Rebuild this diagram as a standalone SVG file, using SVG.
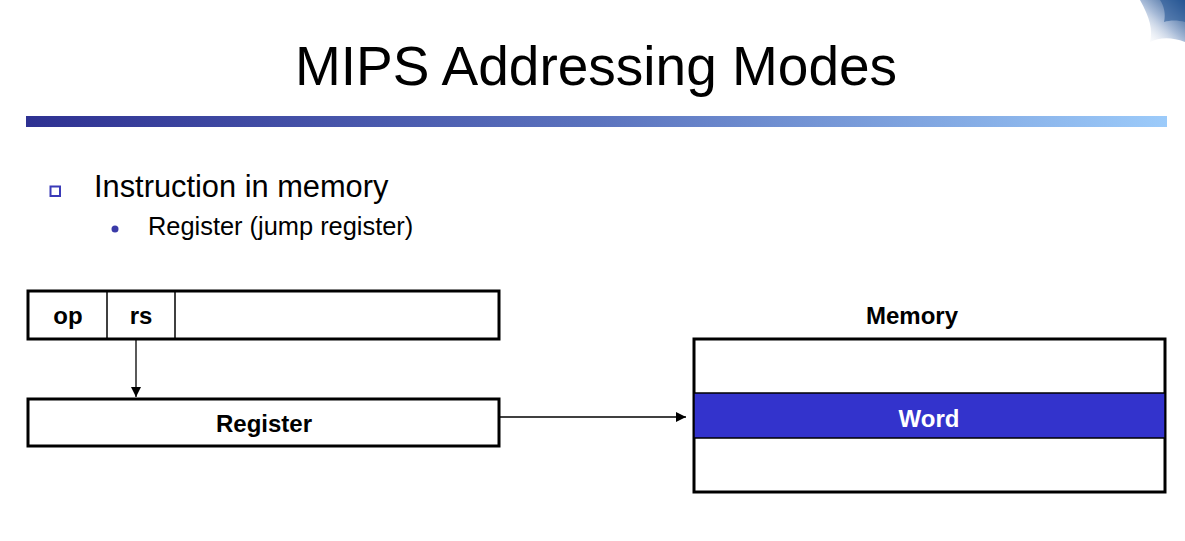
<svg xmlns="http://www.w3.org/2000/svg" width="1185" height="541" viewBox="0 0 1185 541">
<defs>
<linearGradient id="bar" x1="0" y1="0" x2="1" y2="0">
<stop offset="0" stop-color="#2E3192"/>
<stop offset="0.5" stop-color="#5B73BE"/>
<stop offset="1" stop-color="#9CCBFA"/>
</linearGradient>
<linearGradient id="swoosh" x1="0" y1="1" x2="1" y2="0">
<stop offset="0" stop-color="#FFFFFF" stop-opacity="0"/>
<stop offset="0.5" stop-color="#A9BCD8"/>
<stop offset="1" stop-color="#1F4E8C"/>
</linearGradient>
<marker id="arr" viewBox="0 0 10 10" refX="10" refY="5" markerWidth="10" markerHeight="10" markerUnits="userSpaceOnUse" orient="auto">
<path d="M0,0 L10,5 L0,10 z" fill="#000"/>
</marker>
<style>
.box{fill:#fff;stroke:#000;stroke-width:3}
.div{stroke:#000;stroke-width:1.5}
.lbl{font-family:"Liberation Sans",Arial,sans-serif;font-weight:bold;font-size:24px;fill:#000;text-anchor:middle}
.conn{stroke:#000;stroke-width:1.3;fill:none}
</style>
</defs>
<rect width="1185" height="541" fill="#fff"/>
<path d="M1140,0 L1185,0 L1185,42 C1170,36 1158,38 1150,42 C1153,30 1150,18 1140,0 Z" fill="url(#swoosh)"/>
<path d="M1160,0 L1185,0 L1185,22 C1178,20 1170,20 1164,22 C1166,14 1164,6 1160,0 Z" fill="#2A5A98" opacity="0.6"/>
<text x="596" y="85" font-family="Liberation Sans,Arial,sans-serif" font-size="55" text-anchor="middle" fill="#000">MIPS Addressing Modes</text>
<rect x="26" y="116" width="1141" height="11" fill="url(#bar)"/>
<rect x="50.5" y="186.5" width="9.5" height="9.5" fill="#fff" stroke="#3A3AB8" stroke-width="2"/>
<text x="94" y="197" font-family="Liberation Sans,Arial,sans-serif" font-size="30.8" fill="#000">Instruction in memory</text>
<circle cx="115" cy="229" r="3.5" fill="#3A3AA8"/>
<text x="148" y="235" font-family="Liberation Sans,Arial,sans-serif" font-size="25.4" fill="#000">Register (jump register)</text>
<g id="instruction">
<rect class="box" x="28" y="291" width="471" height="48"/>
<line class="div" x1="107" y1="291" x2="107" y2="339"/>
<line class="div" x1="175" y1="291" x2="175" y2="339"/>
<text class="lbl" x="68" y="324">op</text>
<text class="lbl" x="141" y="324">rs</text>
</g>
<g id="register">
<rect class="box" x="28" y="399" width="471" height="47"/>
<text class="lbl" x="264" y="432">Register</text>
</g>
<g id="memory">
<text class="lbl" x="912" y="324">Memory</text>
<rect class="box" x="694" y="339" width="471" height="153"/>
<rect x="694" y="393" width="471" height="45" fill="#3333CC" stroke="#000" stroke-width="1.5"/>
<text class="lbl" x="929" y="427" style="fill:#fff">Word</text>
</g>
<g id="connectors">
<line class="conn" x1="136" y1="340" x2="136" y2="397" marker-end="url(#arr)"/>
<line class="conn" x1="499" y1="417" x2="686" y2="417" marker-end="url(#arr)"/>
</g>
</svg>
